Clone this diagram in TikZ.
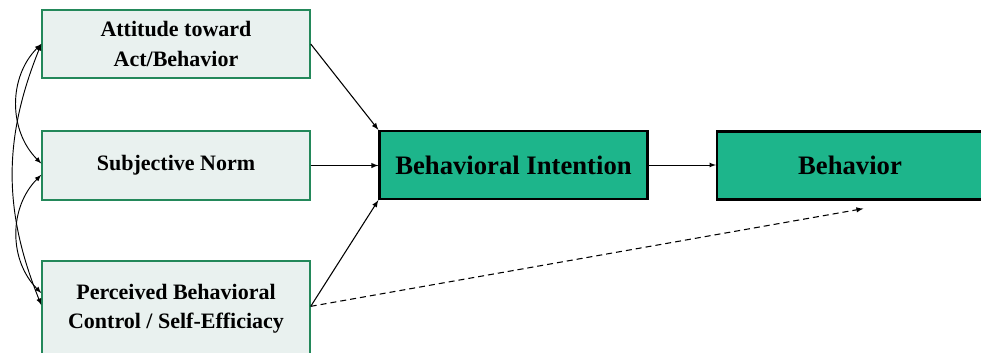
\documentclass[tikz,border=0pt]{standalone}
\usepackage{fontspec}
\setmainfont{Liberation Serif}
\usetikzlibrary{arrows,positioning}
\definecolor{boxgreen}{HTML}{1DB58B}
\definecolor{palegreen}{HTML}{E9F1EF}
\definecolor{edgegreen}{HTML}{23885A}
\begin{document}
\begin{tikzpicture}[x=0.75pt,y=-0.75pt,
    factor/.style={draw=edgegreen,line width=1.1pt,fill=palegreen,minimum width=201pt,
      align=center,font=\bfseries\fontsize{16.5}{22}\selectfont},
    outcome/.style={draw=black,line width=1.7pt,fill=boxgreen,minimum width=201pt,
      minimum height=51pt,font=\bfseries\fontsize{20}{22}\selectfont},
    link/.style={-latex,black,line width=0.8pt}]
    \useasboundingbox (0,0) rectangle (981,353);
    % predictors
    \node[factor,minimum height=51pt] (att) at (176,44) {Attitude toward\\Act/Behavior};
    \node[factor,minimum height=51.75pt] (sn) at (176,165.5) {Subjective Norm};
    \node[factor,minimum height=72pt] (pbc) at (176,309) {Perceived Behavioral\\Control / Self-Efficiacy};
    % outcomes
    \node[outcome] (bi) at (513.5,165) {Behavioral Intention};
    \node[outcome,minimum width=199.5pt] (beh) at (850,165.5) {Behavior};
    \coordinate (pbcout) at ([yshift=2pt]pbc.east);
    \coordinate (dashend) at ([xshift=10pt,yshift=-6pt]beh.south);
    % paths
    \draw[link] (att.east) -- (bi.north west);
    \draw[link] (sn.east) -- (sn.east -| bi.west);
    \draw[link] (pbcout) -- (bi.south west);
    \draw[link,line width=0.6pt] (bi.east) -- (bi.east -| beh.west);
    \draw[link,dash pattern=on 4.5pt off 3pt] (pbcout) -- (dashend);
    % correlations
    \draw[latex-latex,line width=0.7pt] (att.west) to[bend right=45] ([yshift=1.5pt]sn.west);
    \draw[latex-latex,line width=0.7pt] ([yshift=-7pt]sn.west) to[bend right=45] ([yshift=12pt]pbc.west);
    \draw[latex-latex,line width=0.7pt] (att.west) to[bend right=22] ([yshift=3pt]pbc.west);
\end{tikzpicture}
\end{document}
